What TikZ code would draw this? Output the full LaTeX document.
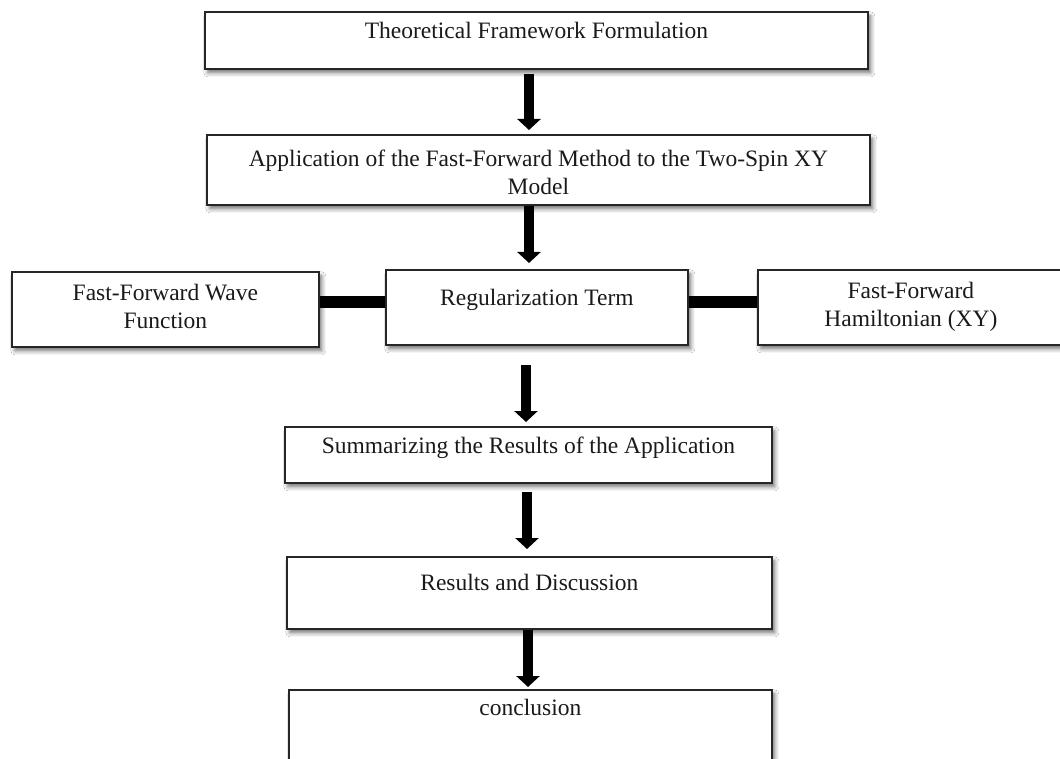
\documentclass[tikz,border=0pt]{standalone}
\usepackage{fontspec}
\setmainfont{Liberation Serif}
\usetikzlibrary{arrows.meta,calc,shadows.blur}
\newcommand{\bxt}[4]{\parbox[c][#2][t]{#1}{\centering\rule{0pt}{#3}#4}}
\definecolor{edge}{HTML}{262626}
\definecolor{ink}{HTML}{1A1A1A}
\tikzset{
  box/.style={draw=edge, line width=1.8pt, fill=white, inner sep=0pt, anchor=north west,
    text=ink, font=\fontsize{23.5}{28}\selectfont,
    blur shadow={shadow xshift=3pt, shadow yshift=-4pt, shadow blur radius=4pt, shadow opacity=55}},
  arr/.style={draw=black, line width=10pt, -{Triangle[width=23pt,length=11pt]}},
  bar/.style={draw=black, line width=12pt}
}
\begin{document}
\begin{tikzpicture}[x=1pt,y=-1pt]
\useasboundingbox (0,0) rectangle (1060,759);
\clip (0,0) rectangle (1060,759);
\fill[white] (0,0) rectangle (1060,759);
\node[box] (B1) at (204,11) {\bxt{663pt}{57pt}{27pt}{Theoretical Framework Formulation}};
\node[box] (B2) at (206,134) {\bxt{663pt}{70pt}{32pt}{Application of the Fast-Forward Method to the Two-Spin XY\\Model}};
\node[box] (L) at (11,271) {\bxt{307pt}{75pt}{29pt}{Fast-Forward Wave\\Function}};
\node[box] (M) at (385,269) {\bxt{302pt}{75pt}{36pt}{Regularization Term}};
\node[box] (R) at (757,269) {\bxt{306pt}{75pt}{29pt}{Fast-Forward\\Hamiltonian (XY)}};
\node[box] (S) at (284,426) {\bxt{487pt}{56pt}{27pt}{Summarizing the Results of the Application}};
\node[box] (D) at (286,556) {\bxt{485pt}{72pt}{34pt}{Results and Discussion}};
\node[box] (C) at (288,689) {\bxt{483pt}{90pt}{26pt}{conclusion}};
\draw[arr] ($(B1.south west)+(325,4)$) -- ($(B2.north west)+(323,-4)$);
\draw[arr] ($(B2.south west)+(323,0)$) -- ($(M.north west)+(144,-6)$);
\draw[arr] ($(M.south west)+(141,19)$) -- ($(S.north west)+(242,-4)$);
\draw[arr] ($(S.south west)+(243,8)$) -- ($(D.north west)+(241,-7)$);
\draw[arr] ($(D.south west)+(242,0)$) -- ($(C.north west)+(240,-2)$);
\draw[bar] ($(L.north east)+(0,31)$) -- ($(M.north west)+(0,33)$);
\draw[bar] ($(M.north east)+(0,33)$) -- ($(R.north west)+(0,33)$);
\end{tikzpicture}
\end{document}
